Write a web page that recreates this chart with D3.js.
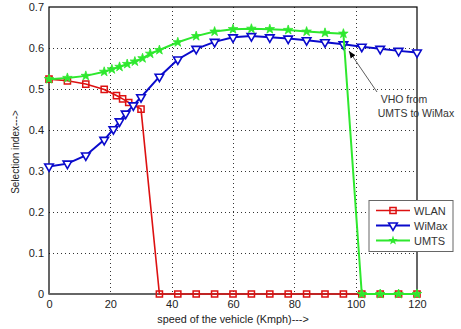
<!DOCTYPE html>
<html><head><meta charset="utf-8">
<script src="https://cdn.jsdelivr.net/npm/d3@7"></script>
<style>body{margin:0;background:#fff;} text{font-family:Arial,"Liberation Sans",sans-serif;}</style>
</head><body><svg id="c" width="461" height="329"></svg>
<script>
const xTicks = [0,20,40,60,80,100,120];
const yTicks = [0,0.1,0.2,0.3,0.4,0.5,0.6,0.7];
const wlanX = [0,6,12,18,22,24,26,30,36,42,48,54,60,66,72,78,84,90,96,102,108,114,120];
const wlanY = [0.524,0.520,0.512,0.499,0.484,0.476,0.467,0.451,0,0,0,0,0,0,0,0,0,0,0,0,0,0,0];
const wimaxX = [0,6,12,18,21,23,25,27.5,30,36,42,48,54,60,66,72,78,84,90,96,102,108,114,120];
const wimaxY = [0.311,0.318,0.338,0.376,0.402,0.421,0.440,0.460,0.480,0.530,0.572,0.598,0.615,0.626,0.629,0.626,0.623,0.619,0.614,0.609,0.603,0.598,0.593,0.589];
const umtsX = [0,6,12,18,20.5,23,25.5,28,30.5,33,36,42,48,54,60,66,72,78,84,90,96,102,108,114,120];
const umtsY = [0.524,0.527,0.532,0.542,0.548,0.554,0.561,0.567,0.575,0.586,0.595,0.614,0.629,0.640,0.646,0.647,0.646,0.644,0.640,0.637,0.635,0,0,0,0];
const seriesNames = ["WLAN","WiMax","UMTS"];

const svg = d3.select("#c");
const L=49,R=417,T=7,B=294;
const x = d3.scaleLinear().domain([0,120]).range([L,R]);
const y = d3.scaleLinear().domain([0,0.7]).range([B,T]);

// grid
const g = svg.append("g");
xTicks.filter(v=>v>0&&v<120).forEach(v=>{
  g.append("line").attr("x1",Math.round(x(v))+0.5).attr("x2",Math.round(x(v))+0.5).attr("y1",T).attr("y2",B)
   .attr("stroke","#333").attr("stroke-width",1).attr("stroke-dasharray","1,3");
});
yTicks.filter(v=>v>0&&v<0.7).forEach(v=>{
  g.append("line").attr("x1",L).attr("x2",R).attr("y1",Math.round(y(v))+0.5).attr("y2",Math.round(y(v))+0.5)
   .attr("stroke","#333").attr("stroke-width",1).attr("stroke-dasharray","1,3");
});
// frame
svg.append("rect").attr("x",L).attr("y",T).attr("width",R-L).attr("height",B-T)
  .attr("fill","none").attr("stroke","#000").attr("stroke-width",1.2);
svg.append("line").attr("x1",L).attr("x2",R).attr("y1",B).attr("y2",B).attr("stroke","#666").attr("stroke-width",2);

// axes labels
const xa = svg.append("g").attr("transform",`translate(0,${B})`)
  .call(d3.axisBottom(x).tickValues(xTicks).tickSize(0).tickPadding(6).tickFormat(d3.format("d")));
xa.select(".domain").remove();
xa.selectAll("text").attr("font-size",11).attr("fill","#222");
const ya = svg.append("g").attr("transform",`translate(${L},0)`)
  .call(d3.axisLeft(y).tickValues(yTicks).tickSize(0).tickPadding(5).tickFormat(d=>d===0?"0":d3.format(".1f")(d)));
ya.select(".domain").remove();
ya.selectAll("text").attr("font-size",11).attr("fill","#222");

svg.append("text").attr("x",233).attr("y",323).attr("text-anchor","middle").attr("font-size",10.8).attr("fill","#222")
  .text("speed of the vehicle (Kmph)--->");
svg.append("text").attr("transform","translate(19,152) rotate(-90)").attr("text-anchor","middle").attr("font-size",10).attr("fill","#222")
  .text("Selection index--->");

const line = d3.line().x(d=>x(d[0])).y(d=>y(d[1]));
const wlan = wlanX.map((v,i)=>[v,wlanY[i]]);
const wimax = wimaxX.map((v,i)=>[v,wimaxY[i]]);
const umts = umtsX.map((v,i)=>[v,umtsY[i]]);

const cols = {WLAN:"#dd1111", WiMax:"#0a0acc", UMTS:"#2ee82e"};
const sq = d3.symbol().type(d3.symbolSquare).size(38);
const tri = d3.symbol().type(d3.symbolTriangle).size(32);
const star = d3.symbol().type(d3.symbolStar).size(28);

function drawSeries(data,name){
  svg.append("path").datum(data).attr("d",line).attr("fill","none").attr("stroke",cols[name]).attr("stroke-width",name==="WLAN"?1.6:2);
}
function drawMarks(data,name){
  const gm = svg.append("g");
  data.forEach(d=>{
    const p = gm.append("path").attr("transform",`translate(${x(d[0])},${y(d[1])})`+(name==="WiMax"?" rotate(180)":""));
    if(name==="WLAN") p.attr("d",sq()).attr("fill","none").attr("stroke",cols.WLAN).attr("stroke-width",1.5);
    else if(name==="WiMax") p.attr("d",tri()).attr("fill","#fff").attr("stroke",cols.WiMax).attr("stroke-width",1.6);
    else p.attr("d",star()).attr("fill",cols.UMTS).attr("stroke",cols.UMTS).attr("stroke-width",0.8);
  });
}
drawSeries(wlan,"WLAN"); drawMarks(wlan,"WLAN");
drawSeries(wimax,"WiMax"); drawMarks(wimax,"WiMax");
drawSeries(umts,"UMTS"); drawMarks(umts,"UMTS");

// annotation
svg.append("defs").append("marker").attr("id","ah").attr("viewBox","0 0 10 10").attr("refX",10).attr("refY",5)
  .attr("markerWidth",9).attr("markerHeight",9).attr("orient","auto")
  .append("path").attr("d","M0,1 L10,5 L0,9 Z").attr("fill","#000");
svg.append("line").attr("x1",377).attr("y1",92).attr("x2",349).attr("y2",51)
  .attr("stroke","#333").attr("stroke-width",0.8).attr("marker-end","url(#ah)");
svg.append("text").attr("x",404).attr("y",103).attr("text-anchor","middle").attr("font-size",10.5).attr("fill","#333").text("VHO from");
svg.append("text").attr("x",416).attr("y",117).attr("text-anchor","middle").attr("font-size",10.5).attr("fill","#333").text("UMTS to WiMax");

// legend
const lg = svg.append("g");
lg.append("rect").attr("x",369).attr("y",200.5).attr("width",84).attr("height",51).attr("fill","#fff").attr("stroke","#666").attr("stroke-width",1);
seriesNames.forEach((n,i)=>{
  const yy = 210.5 + i*15;
  lg.append("line").attr("x1",376).attr("x2",410).attr("y1",yy).attr("y2",yy).attr("stroke",cols[n]).attr("stroke-width",n==="WLAN"?1.6:2);
  const p = lg.append("path").attr("transform",`translate(393,${yy})`+(n==="WiMax"?" rotate(180)":""));
  if(n==="WLAN") p.attr("d",sq()).attr("fill","none").attr("stroke",cols.WLAN).attr("stroke-width",1.5);
  else if(n==="WiMax") p.attr("d",tri()).attr("fill","#fff").attr("stroke",cols.WiMax).attr("stroke-width",1.6);
  else p.attr("d",star()).attr("fill",cols.UMTS);
  lg.append("text").attr("x",414).attr("y",yy+4).attr("font-size",11).attr("fill","#333").text(n);
});
</script></body></html>
